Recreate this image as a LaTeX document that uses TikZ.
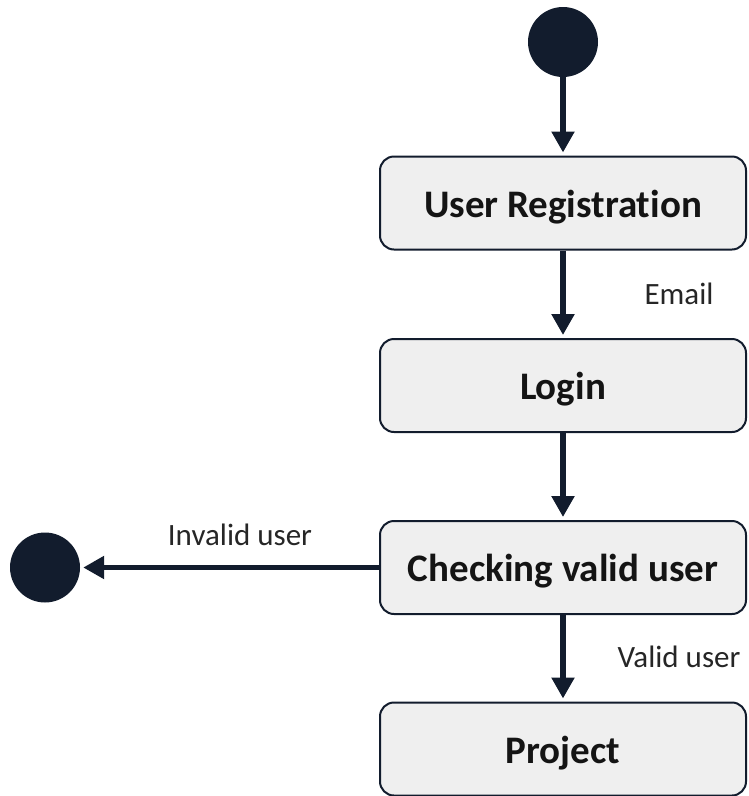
\documentclass[tikz,border=0pt]{standalone}
\usepackage{fontspec}
\setmainfont[Ligatures={NoCommon}]{Carlito}
\usetikzlibrary{arrows.meta}
\definecolor{ink}{HTML}{121C2D}
\definecolor{boxfill}{HTML}{EFEFEF}
\definecolor{txt}{HTML}{141414}
\definecolor{lbltxt}{HTML}{262626}

\begin{document}
\begin{tikzpicture}[x=1pt,y=-1pt,
  state/.style={draw=ink, line width=2pt, fill=boxfill, rounded corners=14pt,
    minimum width=366pt, minimum height=93pt, inner sep=0pt,
    text height=28pt, text depth=0pt,
    font=\fontsize{39}{44}\selectfont\bfseries, text=txt},
  dot/.style={circle, fill=ink, minimum size=70pt, inner sep=0pt},
  flow/.style={draw=ink, line width=5.5pt,
    -{Triangle[width=22pt,length=21pt]}, shorten >=3pt},
  lbl/.style={font=\fontsize{31}{36}\selectfont, text=lbltxt, inner sep=0pt}]
\useasboundingbox (0,0) rectangle (748,796);

% states
\node[dot] (start) at (563,42) {};
\node[state] (reg) at (563,203) {User Registration};
\node[state] (login) at (563,385.5) {Login};
\node[state] (check) at (563,567.5) {Checking valid user};
\node[state] (proj) at (563,749) {Project};
\node[dot] (stop) at (45,567.5) {};

% transitions
\draw[flow] (start) -- (reg);
\draw[flow] (reg) -- (login);
\draw[flow] (login) -- (check);
\draw[flow] (check) -- (proj);
\draw[flow] (check) -- (stop);

% transition labels
\node[lbl] (lemail) at (679,294) {Email};
\node[lbl] (lvalid) at (679,657) {Valid user};
\node[lbl] (linvalid) at (240,535) {Invalid user};
\end{tikzpicture}
\end{document}
